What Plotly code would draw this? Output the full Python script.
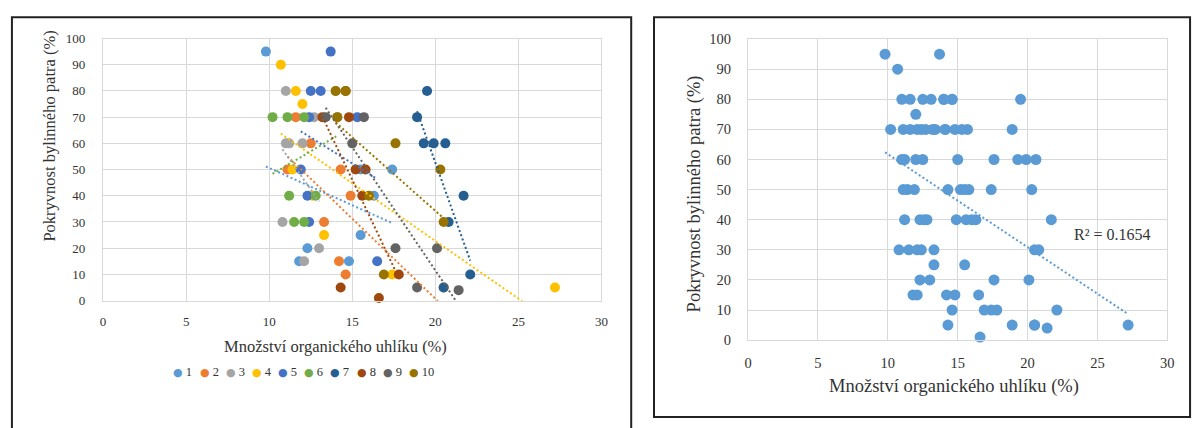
import numpy as np
import plotly.graph_objects as go

# ---------------- data ----------------
series_names = ["1", "2", "3", "4", "5", "6", "7", "8", "9", "10"]
series_colors = ["#5B9BD5", "#ED7D31", "#A5A5A5", "#FFC000", "#4472C4",
                 "#70AD47", "#255E91", "#9E480E", "#636363", "#997300"]

s1_x = [9.8, 17.4, 15.5, 16.3, 15.5, 12.3, 11.8, 14.8]
s1_y = [95, 50, 50, 40, 25, 20, 15, 15]
s2_x = [11.6, 12.5, 11.1, 14.3, 14.9, 13.3, 14.2, 14.6, 20.5]
s2_y = [70, 60, 50, 50, 40, 30, 15, 10, 5]
s3_x = [11.0, 12.7, 11.0, 11.2, 12.0, 10.8, 13.0, 12.1]
s3_y = [80, 70, 60, 60, 60, 30, 20, 15]
s4_x = [10.7, 11.6, 12.0, 11.4, 12.6, 13.3, 17.4, 27.2]
s4_y = [90, 80, 75, 50, 40, 25, 10, 5]
s5_x = [13.7, 12.5, 13.1, 12.4, 15.3, 11.9, 12.3, 12.4, 16.5]
s5_y = [95, 80, 80, 70, 70, 50, 40, 30, 15]
s6_x = [10.2, 11.1, 12.1, 11.2, 12.8, 11.5, 12.1, 14.0, 14.1]
s6_y = [70, 70, 70, 40, 40, 30, 30, 80, 70]
s7_x = [19.5, 18.9, 19.3, 19.9, 20.6, 21.7, 20.8, 22.1, 20.5]
s7_y = [80, 70, 60, 60, 60, 40, 30, 10, 5]
s8_x = [14.6, 13.2, 14.8, 15.2, 15.8, 15.6, 17.8, 14.3, 16.6]
s8_y = [80, 70, 70, 50, 50, 40, 10, 5, 1]
s9_x = [13.4, 15.7, 15.0, 17.6, 20.1, 18.9, 21.4]
s9_y = [70, 70, 60, 20, 20, 5, 4]
s10_x = [14.0, 14.6, 14.1, 17.6, 20.3, 16.0, 20.5, 16.9]
s10_y = [80, 80, 70, 60, 50, 40, 30, 10]

series_x = [s1_x, s2_x, s3_x, s4_x, s5_x, s6_x, s7_x, s8_x, s9_x, s10_x]
series_y = [s1_y, s2_y, s3_y, s4_y, s5_y, s6_y, s7_y, s8_y, s9_y, s10_y]

x_title = "Množství organického uhlíku (%)"
y_title = "Pokryvnost bylinného patra (%)"
r2_label = "R² = 0.1654"

# ---------------- layout helpers ----------------
W, H = 1203, 428
FONT = "Liberation Serif"
TXT = "#333333"
GRID = "#d9d9d9"
DOT = "2px,2.5px"


def px(p):
    return p / W


def py(p):
    return 1 - p / H


def trend(xv, yv):
    k, b = np.polyfit(xv, yv, 1)
    xs = np.array([min(xv), max(xv)])
    return xs, k * xs + b


fig = go.Figure()

# left panel: per-series markers
for name, col, xv, yv in zip(series_names, series_colors, series_x, series_y):
    fig.add_trace(go.Scatter(x=xv, y=yv, mode="markers", name=name,
                             marker=dict(size=10, color=col, line=dict(width=0)),
                             cliponaxis=False, xaxis="x", yaxis="y",
                             showlegend=False))
# left panel: trend lines
for name, col, xv, yv in zip(series_names, series_colors, series_x, series_y):
    tx, ty = trend(xv, yv)
    fig.add_trace(go.Scatter(x=tx, y=ty, mode="lines",
                             line=dict(color=col, width=2, dash=DOT),
                             xaxis="x", yaxis="y", showlegend=False,
                             hoverinfo="skip"))

# right panel: all points together
all_x = np.concatenate([np.array(v, float) for v in series_x])
all_y = np.concatenate([np.array(v, float) for v in series_y])
fig.add_trace(go.Scatter(x=all_x, y=all_y, mode="markers",
                         marker=dict(size=11, color="#5B9BD5", line=dict(width=0)),
                         cliponaxis=False, xaxis="x2", yaxis="y2",
                         showlegend=False))
tx, ty = trend(all_x, all_y)
fig.add_trace(go.Scatter(x=tx, y=ty, mode="lines",
                         line=dict(color="#5B9BD5", width=2, dash=DOT),
                         xaxis="x2", yaxis="y2", showlegend=False,
                         hoverinfo="skip"))


def axis(domain, rng, dtick, size, standoff, anchor):
    return dict(domain=domain, range=rng, dtick=dtick, tick0=0,
                showgrid=True, gridcolor=GRID, gridwidth=1.3,
                showline=True, linecolor=GRID, linewidth=1.3, mirror=True,
                zeroline=False, ticks="", ticklabelstandoff=standoff,
                tickfont=dict(family=FONT, size=size, color=TXT),
                anchor=anchor, fixedrange=True)


layout = dict(
    width=W, height=H,
    margin=dict(l=0, r=0, t=0, b=0),
    paper_bgcolor="white", plot_bgcolor="white",
    font=dict(family=FONT, color=TXT),
    showlegend=False,
    xaxis=axis([px(100), px(603)], [0, 30], 5, 13, 9, "y"),
    yaxis=axis([py(304), py(31.7)], [0, 100], 10, 13, 14, "x"),
    xaxis2=axis([px(751), px(1174)], [0, 30], 5, 14.5, 9, "y2"),
    yaxis2=axis([py(345), py(32.3)], [0, 100], 10, 14.5, 13, "x2"),
)
fig.update_layout(**layout)

# panel frames
fig.add_shape(type="rect", xref="paper", yref="paper",
              x0=px(8), x1=px(633), y0=py(440), y1=py(9.5),
              line=dict(color="#222222", width=2))
fig.add_shape(type="rect", xref="paper", yref="paper",
              x0=px(656), x1=px(1197), y0=py(425), y1=py(9.5),
              line=dict(color="#222222", width=2))


def label(text, xp, yp, size, angle=0):
    return dict(text=text, x=px(xp), y=py(yp), xref="paper", yref="paper",
                xanchor="center", yanchor="middle", textangle=angle,
                showarrow=False, font=dict(family=FONT, size=size, color=TXT))


ann = [
    label(y_title, 45, 133, 16.5, -90),
    label(x_title, 335, 352, 16.5),
    label(y_title, 697, 193, 18.5, -90),
    label(x_title, 959, 393, 18.5),
    dict(text=r2_label, x=26.1, y=35, xref="x2", yref="y2",
         xanchor="center", yanchor="middle", showarrow=False,
         font=dict(family=FONT, size=16, color=TXT)),
]
# legend (left panel)
for i, (name, col) in enumerate(zip(series_names, series_colors)):
    ann.append(dict(
        text=f'<span style="color:{col};font-family:DejaVu Sans;font-size:11px">●</span> {name}',
        x=px(169 + 26.4 * i), y=py(378), xref="paper", yref="paper",
        xanchor="left", yanchor="middle", showarrow=False,
        font=dict(family=FONT, size=12.5, color=TXT)))
fig.update_layout(annotations=ann)

fig.write_html("out.html",
               config={"displayModeBar": False},
               post_script="document.body.style.margin='0';"
                           "document.body.style.overflow='hidden';")
